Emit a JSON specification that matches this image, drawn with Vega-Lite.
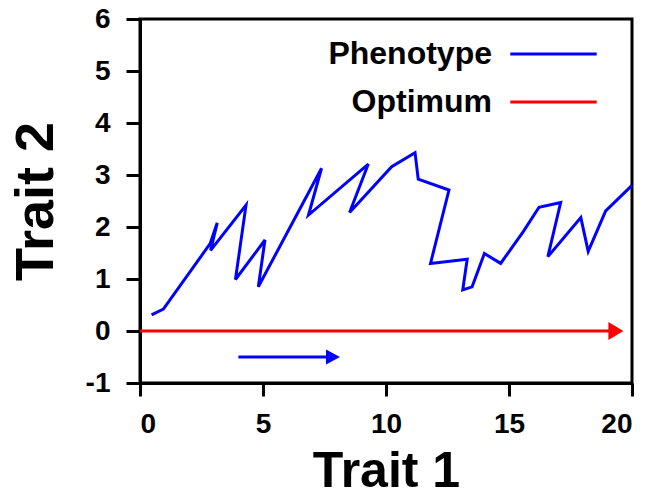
{
  "$schema": "https://vega.github.io/schema/vega-lite/v6.json",
  "width": 492,
  "height": 364,
  "autosize": {"type": "none"},
  "padding": {"left": 140, "top": 19, "right": 26, "bottom": 115},
  "background": "white",
  "config": {
    "font": "Liberation Sans",
    "view": {"stroke": "black", "strokeWidth": 3},
    "axis": {
      "grid": false,
      "domainColor": "black",
      "domainWidth": 3,
      "tickColor": "black",
      "tickWidth": 3,
      "tickSize": 14,
      "labelFont": "Liberation Sans",
      "labelFontWeight": "bold",
      "labelFontSize": 28,
      "labelColor": "black",
      "titleFont": "Liberation Sans",
      "titleFontWeight": "bold",
      "titleFontSize": 50,
      "titleColor": "black"
    }
  },
  "datasets": {
    "phenotype": [
      {"step": 1, "trait1": 0.47, "trait2": 0.31},
      {"step": 2, "trait1": 0.95, "trait2": 0.42},
      {"step": 3, "trait1": 2.85, "trait2": 1.68},
      {"step": 4, "trait1": 3.14, "trait2": 2.08},
      {"step": 5, "trait1": 2.87, "trait2": 1.55},
      {"step": 6, "trait1": 4.31, "trait2": 2.42},
      {"step": 7, "trait1": 3.88, "trait2": 0.99},
      {"step": 8, "trait1": 5.08, "trait2": 1.75},
      {"step": 9, "trait1": 4.81, "trait2": 0.85},
      {"step": 10, "trait1": 7.38, "trait2": 3.13},
      {"step": 11, "trait1": 6.85, "trait2": 2.23},
      {"step": 12, "trait1": 9.28, "trait2": 3.21},
      {"step": 13, "trait1": 8.52, "trait2": 2.28},
      {"step": 14, "trait1": 10.23, "trait2": 3.16},
      {"step": 15, "trait1": 11.18, "trait2": 3.43},
      {"step": 16, "trait1": 11.31, "trait2": 2.92},
      {"step": 17, "trait1": 12.56, "trait2": 2.71},
      {"step": 18, "trait1": 11.81, "trait2": 1.3},
      {"step": 19, "trait1": 13.3, "trait2": 1.38},
      {"step": 20, "trait1": 13.12, "trait2": 0.79},
      {"step": 21, "trait1": 13.5, "trait2": 0.85},
      {"step": 22, "trait1": 14.0, "trait2": 1.49},
      {"step": 23, "trait1": 14.66, "trait2": 1.3},
      {"step": 24, "trait1": 15.58, "trait2": 1.91},
      {"step": 25, "trait1": 16.22, "trait2": 2.38},
      {"step": 26, "trait1": 17.1, "trait2": 2.47},
      {"step": 27, "trait1": 16.58, "trait2": 1.43},
      {"step": 28, "trait1": 17.92, "trait2": 2.18},
      {"step": 29, "trait1": 18.22, "trait2": 1.53},
      {"step": 30, "trait1": 18.93, "trait2": 2.31},
      {"step": 31, "trait1": 20.0, "trait2": 2.8}
    ],
    "optimum": [{"trait1": 0, "trait1_end": 19.3, "tip": 19.65, "trait2": 0}],
    "direction": [{"trait1": 4.0, "trait1_end": 7.8, "tip": 8.13, "trait2": -0.5}]
  },
  "encoding": {
    "x": {
      "field": "trait1",
      "type": "quantitative",
      "scale": {"domain": [0, 20], "nice": false, "zero": false},
      "axis": {"title": "Trait 1", "values": [0, 5, 10, 15, 20], "labelPadding": 14, "titlePadding": 8, "tickSize": 13}
    },
    "y": {
      "field": "trait2",
      "type": "quantitative",
      "scale": {"domain": [-1, 6], "nice": false, "zero": false},
      "axis": {
        "title": "Trait 2",
        "titleFontSize": 54,
        "values": [-1, 0, 1, 2, 3, 4, 5, 6],
        "labelPadding": 16,
        "titlePadding": 22,
        "labelExpr": "datum.value < 0 ? '-' + abs(datum.value) : '' + datum.value"
      }
    }
  },
  "layer": [
    {
      "data": {"name": "optimum"},
      "mark": {"type": "rule", "strokeWidth": 3},
      "encoding": {
        "x2": {"field": "trait1_end"},
        "color": {
          "datum": "Optimum",
          "scale": {"domain": ["Phenotype", "Optimum"], "range": ["#0000ff", "#ff0000"]},
          "legend": {
            "title": null,
            "orient": "none",
            "legendX": 385,
            "legendY": 6.5,
            "padding": 0,
            "symbolType": "M-1.6,0H1.6",
            "symbolSize": 2916,
            "symbolStrokeWidth": 3,
            "labelAlign": "right",
            "labelOffset": -90,
            "labelFont": "Liberation Sans",
            "labelFontWeight": "bold",
            "labelFontSize": 32,
            "labelColor": "black",
            "rowPadding": 3,
            "labelLimit": 400
          }
        }
      }
    },
    {
      "data": {"name": "optimum"},
      "mark": {"type": "point", "shape": "M0,0L-1,-0.6L-1,0.6Z", "filled": true, "fill": "#ff0000", "opacity": 1, "size": 900},
      "encoding": {"x": {"field": "tip", "type": "quantitative"}}
    },
    {
      "data": {"name": "direction"},
      "mark": {"type": "rule", "strokeWidth": 3, "color": "#0000ff"},
      "encoding": {"x2": {"field": "trait1_end"}}
    },
    {
      "data": {"name": "direction"},
      "mark": {"type": "point", "shape": "M0,0L-1,-0.54L-1,0.54Z", "filled": true, "fill": "#0000ff", "opacity": 1, "size": 784},
      "encoding": {"x": {"field": "tip", "type": "quantitative"}}
    },
    {
      "data": {"name": "phenotype"},
      "mark": {"type": "line", "strokeWidth": 3, "strokeJoin": "miter"},
      "encoding": {
        "order": {"field": "step", "type": "quantitative"},
        "color": {"datum": "Phenotype"}
      }
    }
  ]
}
